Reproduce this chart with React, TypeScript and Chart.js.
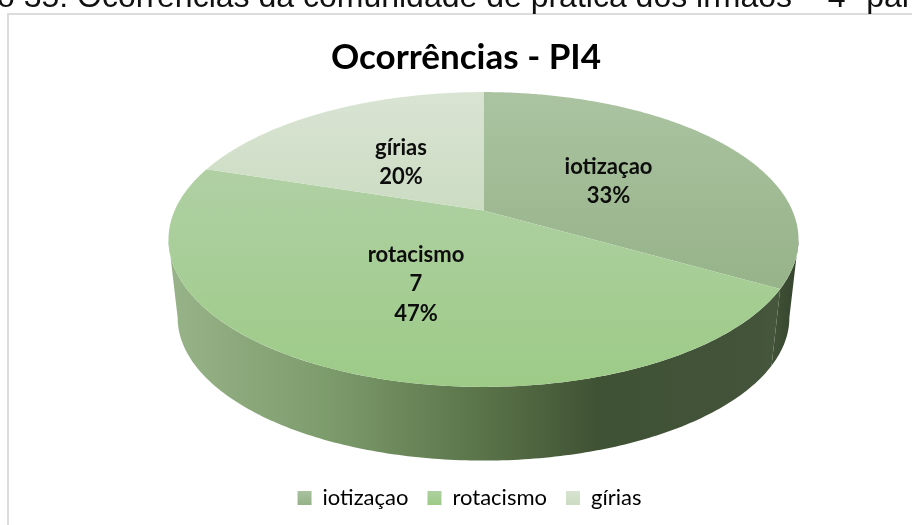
import React, { useEffect, useRef } from "react";
import { Chart, registerables } from "chart.js";

Chart.register(...registerables);

const titleText = "Ocorrências - PI4";
const captionText = "o 35: Ocorrências da comunidade de prática dos irmãos – 4ª par";
const categories = ["iotizaçao", "rotacismo", "gírias"];
const occurrences = [5, 7, 3];
const showValueInLabel = [false, true, false];

// top-face gradient per slice [upper, lower]
const faceColors = [
  ["#abc3a1", "#96b389"],
  ["#b0d0a4", "#9dcb87"],
  ["#d9e4d3", "#ccdcc3"],
];
const wallColors = [
  [[0, "#3f5036"], [1, "#35432c"]],
  [[0, "#98b389"], [0.25, "#7d9c6c"], [0.5, "#5a7349"], [0.68, "#405234"], [0.9, "#42533a"], [1, "#46583c"]],
  [[0, "#8aa47c"], [1, "#8aa47c"]],
];

const FONT = "Lato, Carlito, sans-serif";
const SQUASH = 0.468; // ry / rx of top face
const PERSPECTIVE = 0.197; // apex shift of the disc
const DEPTH = 0.235;
const BOTTOM_RX = 0.971;
const BOTTOM_RY = 0.97;
const BOTTOM_SHIFT = 0.248;
const PIE_SHIFT_X = 17.5;
const LEGEND_SHIFT_X = 3.5;
const LEGEND_SHIFT_Y = -6;
const LABEL_RADIUS = 0.49;
const LABEL_DROP = 4;
const LABEL_LINE = 29.5;

const lens = (a: number) => {
  const x = Math.cos(a), y = Math.sin(a), d = PERSPECTIVE;
  const w = 1 - d * y;
  return { x: (x * Math.sqrt(1 - d * d)) / w, y: (y - d) / w };
};
const phiOf = (a: number) => {
  const p = lens(a);
  let phi = Math.atan2(p.y, p.x);
  if (phi < -Math.PI / 2 - 1e-6) phi += Math.PI * 2;
  return phi;
};

const pie3d = {
  id: "pie3d",
  afterLayout(chart: any) {
    const l = chart.legend;
    if (l) {
      l.left += LEGEND_SHIFT_X;
      l.right += LEGEND_SHIFT_X;
      l.top += LEGEND_SHIFT_Y;
      l.bottom += LEGEND_SHIFT_Y;
    }
  },
  beforeDraw(chart: any) {
    const { ctx } = chart;
    ctx.save();
    ctx.fillStyle = "#ffffff";
    ctx.fillRect(0, 0, chart.width, chart.height);
    ctx.fillStyle = "#dcdcdc";
    ctx.fillRect(7, 13, chart.width - 7, 2);
    ctx.fillRect(7, 13, 2, chart.height - 13);
    ctx.fillStyle = "#111111";
    ctx.font = "32px 'Liberation Sans', Arial, sans-serif";
    ctx.textAlign = "left";
    ctx.textBaseline = "alphabetic";
    ctx.fillText(captionText, -3, 6.5);
    ctx.restore();
  },
  beforeDatasetsDraw(chart: any) {
    const { ctx } = chart;
    const arcs = chart.getDatasetMeta(0).data;
    const total = occurrences.reduce((s, v) => s + v, 0);
    const R = arcs[0].outerRadius;
    const rx = R;
    const ry = R * SQUASH;
    const depth = R * DEPTH;
    const cx = arcs[0].x + PIE_SHIFT_X;
    const cy = arcs[0].y - depth / 2;
    const px = (p: { x: number; y: number }) => ({ x: cx + rx * p.x, y: cy + ry * p.y });

    ctx.save();
    // side walls
    arcs.forEach((arc: any, i: number) => {
      const from = Math.max(phiOf(arc.startAngle), 0);
      const to = Math.min(phiOf(arc.endAngle), Math.PI);
      if (to <= from) return;
      const steps = Math.max(2, Math.ceil(((to - from) * 180) / Math.PI));
      const cyB = cy + R * BOTTOM_SHIFT;
      ctx.beginPath();
      for (let k = 0; k <= steps; k++) {
        const phi = from + ((to - from) * k) / steps;
        const X = cx + rx * Math.cos(phi), Y = cy + ry * Math.sin(phi);
        if (k === 0) ctx.moveTo(X, Y);
        else ctx.lineTo(X, Y);
      }
      for (let k = steps; k >= 0; k--) {
        const phi = from + ((to - from) * k) / steps;
        ctx.lineTo(cx + rx * BOTTOM_RX * Math.cos(phi), cyB + ry * BOTTOM_RY * Math.sin(phi));
      }
      ctx.closePath();
      const g = ctx.createLinearGradient(
        i === 0 ? cx + rx * Math.cos(from) - 22 : cx - rx, 0,
        cx + rx, 0);
      (wallColors[i] as any[]).forEach(([o, c]) => g.addColorStop(o, c));
      ctx.fillStyle = g;
      ctx.fill();
    });
    // top face
    arcs.forEach((arc: any, i: number) => {
      const apex = px({ x: 0, y: -PERSPECTIVE });
      const steps = Math.ceil(((arc.endAngle - arc.startAngle) * 180) / Math.PI) * 2;
      let minY = apex.y, maxY = apex.y;
      ctx.beginPath();
      ctx.moveTo(apex.x, apex.y);
      for (let k = 0; k <= steps; k++) {
        const a = arc.startAngle + ((arc.endAngle - arc.startAngle) * k) / steps;
        const p = px(lens(a));
        ctx.lineTo(p.x, p.y);
        minY = Math.min(minY, p.y);
        maxY = Math.max(maxY, p.y);
      }
      ctx.closePath();
      const g = ctx.createLinearGradient(0, minY, 0, maxY);
      g.addColorStop(0, faceColors[i][0]);
      g.addColorStop(1, faceColors[i][1]);
      ctx.fillStyle = g;
      ctx.fill();
    });
    // data labels
    ctx.font = `bold 22px ${FONT}`;
    ctx.fillStyle = "#0d0d0d";
    ctx.textAlign = "center";
    ctx.textBaseline = "middle";
    arcs.forEach((arc: any, i: number) => {
      const mid = (arc.startAngle + arc.endAngle) / 2;
      const sx = Math.cos(mid) * LABEL_RADIUS, sy = Math.sin(mid) * LABEL_RADIUS;
      const d = PERSPECTIVE, w = 1 - d * sy;
      const p = px({ x: (sx * Math.sqrt(1 - d * d)) / w, y: (sy - d) / w });
      const lines = [categories[i]];
      if (showValueInLabel[i]) lines.push(String(occurrences[i]));
      lines.push(`${Math.round((occurrences[i] / total) * 100)}%`);
      lines.forEach((t, n) =>
        ctx.fillText(t, p.x, p.y + LABEL_DROP + (n - (lines.length - 1) / 2) * LABEL_LINE));
    });
    ctx.restore();
    return false;
  },
};

export default function App() {
  const ref = useRef<HTMLCanvasElement>(null);
  useEffect(() => {
    const canvas = ref.current!;
    const ctx = canvas.getContext("2d")!;
    const swatches = faceColors.map(([a, b]) => {
      const g = ctx.createLinearGradient(0, 490, 0, 504);
      g.addColorStop(0, a);
      g.addColorStop(1, b);
      return g;
    });
    const chart = new Chart(canvas, {
      type: "pie",
      data: {
        labels: categories,
        datasets: [{ data: occurrences, backgroundColor: faceColors.map((c) => c[0]), borderWidth: 0 }],
      },
      plugins: [pie3d],
      options: {
        responsive: false,
        animation: false,
        radius: 315,
        rotation: 0,
        layout: { padding: { top: 37, left: 20, right: 0, bottom: 0 } },
        plugins: {
          tooltip: { enabled: false },
          title: {
            display: true,
            text: titleText,
            color: "#000000",
            font: { family: FONT, weight: "bold", size: 35 },
            padding: { top: 0, bottom: 0 },
          },
          legend: {
            position: "bottom",
            labels: {
              boxWidth: 14,
              boxHeight: 14,
              padding: 19,
              color: "#1a1a1a",
              font: { family: FONT, size: 22 },
              generateLabels: () =>
                categories.map((c, i) => ({
                  text: c,
                  fillStyle: swatches[i],
                  strokeStyle: "transparent",
                  lineWidth: 0,
                  index: i,
                  hidden: false,
                })),
            },
          },
        },
      } as any,
    });
    return () => chart.destroy();
  }, []);
  return (
    <canvas
      ref={ref}
      width={912}
      height={525}
      style={{ position: "absolute", left: 0, top: 0, width: 912, height: 525 }}
    />
  );
}
